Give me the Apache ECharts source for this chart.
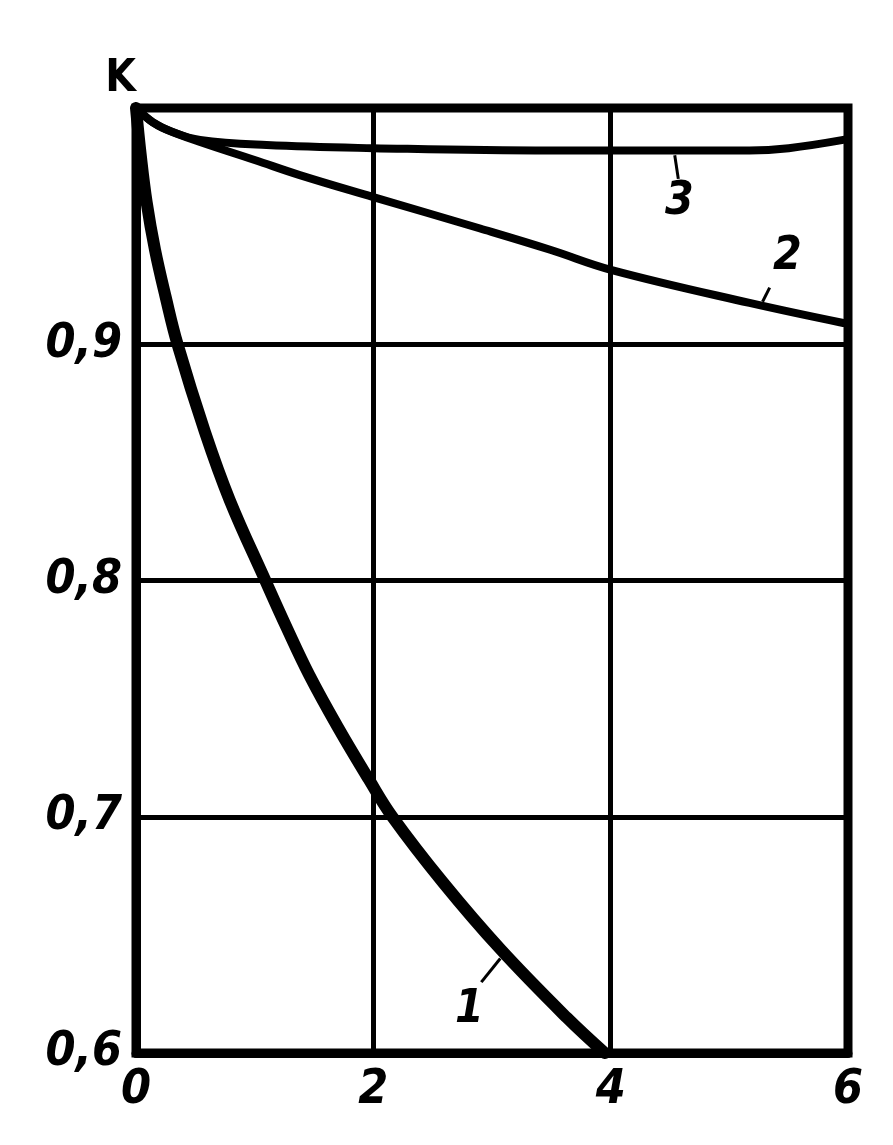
<!DOCTYPE html>
<html>
<head>
<meta charset="utf-8">
<script src="https://cdn.jsdelivr.net/npm/echarts@6/dist/echarts.min.js"></script>
<style>
  html, body { margin: 0; padding: 0; background: #ffffff; }
  #chart { width: 893px; height: 1145px; }
</style>
</head>
<body>
<div id="chart"></div>
<script>
// ---- data ----
const xTickValues = [0, 2, 4, 6];
const xTickLabels = ['0', '2', '4', '6'];
const yTickValues = [0.6, 0.7, 0.8, 0.9, 1.0];
const yTickLabels = ['0,6', '0,7', '0,8', '0,9', ''];
const yAxisName = 'K';

const curve1 = [
  [0, 1.0], [0.04, 0.98], [0.09, 0.96], [0.16, 0.94], [0.25, 0.92],
  [0.35, 0.9], [0.58, 0.863], [0.79, 0.834], [1.09, 0.8], [1.27, 0.780],
  [1.46, 0.760], [1.70, 0.738], [1.96, 0.716], [2.16, 0.700], [2.59, 0.672],
  [3.07, 0.644], [3.63, 0.615], [3.95, 0.6]
];
const curve2 = [
  [0, 1.0], [0.14, 0.994], [0.25, 0.991], [0.54, 0.9856], [1.0, 0.978],
  [1.38, 0.9716], [2.0, 0.9623], [2.9, 0.949], [3.49, 0.940],
  [4.01, 0.9314], [5.17, 0.9175], [5.96, 0.909]
];
const curve3 = [
  [0, 1.0], [0.14, 0.994], [0.3, 0.990], [0.54, 0.9865], [1.1, 0.9843],
  [2.0, 0.983], [3.49, 0.982], [4.5, 0.982], [5.17, 0.982], [5.5, 0.983],
  [5.96, 0.9865]
];

const curveNames = ['1', '2', '3'];
const curveLabelAt = [[2.81, 0.618], [5.49, 0.937], [4.58, 0.960]];
const leaderLines = [
  [[3.07, 0.640], [2.91, 0.630]],
  [[5.34, 0.924], [5.28, 0.918]],
  [[4.54, 0.980], [4.57, 0.970]]
];

// ---- chart ----
const FONT = '"Liberation Sans Narrow", "DejaVu Sans Condensed", sans-serif';
const chart = echarts.init(document.getElementById('chart'), null, { renderer: 'canvas' });

function yLabel(v) {
  const i = yTickValues.findIndex(t => Math.abs(t - v) < 1e-6);
  return i >= 0 ? yTickLabels[i] : '';
}
function xLabel(v) {
  const i = xTickValues.findIndex(t => Math.abs(t - v) < 1e-6);
  return i >= 0 ? xTickLabels[i] : '';
}

const option = {
  backgroundColor: '#ffffff',
  animation: false,
  grid: {
    left: 136, right: 45, top: 108, bottom: 92,
    show: true, borderColor: '#000', borderWidth: 9, backgroundColor: 'transparent'
  },
  xAxis: {
    type: 'value', min: 0, max: 6, interval: 2,
    axisLine: { show: true, lineStyle: { color: '#000', width: 9 } },
    axisTick: { show: false },
    splitLine: { show: true, lineStyle: { color: '#000', width: 5 } },
    axisLabel: {
      formatter: xLabel, margin: 14, color: '#000',
      fontFamily: FONT, fontStyle: 'italic', fontWeight: 'bold', fontSize: 48
    }
  },
  yAxis: {
    type: 'value', min: 0.6, max: 1.0, interval: 0.1,
    name: yAxisName, nameLocation: 'end', nameGap: 6,
    nameTextStyle: { color: '#000', fontFamily: FONT, fontWeight: 'bold', fontSize: 44, align: 'right' },
    axisLine: { show: true, lineStyle: { color: '#000', width: 9 } },
    axisTick: { show: false },
    splitLine: { show: true, lineStyle: { color: '#000', width: 5 } },
    axisLabel: {
      formatter: yLabel, margin: 14, color: '#000',
      fontFamily: FONT, fontStyle: 'italic', fontWeight: 'bold', fontSize: 48
    }
  },
  series: [
    { type: 'line', data: curve1, smooth: 0.4, symbol: 'none',
      lineStyle: { color: '#000', width: 12, cap: 'round' }, z: 5 },
    { type: 'line', data: curve2, smooth: 0.4, symbol: 'none',
      lineStyle: { color: '#000', width: 8, cap: 'round' }, z: 5 },
    { type: 'line', data: curve3, smooth: 0.4, symbol: 'none',
      lineStyle: { color: '#000', width: 8, cap: 'round' }, z: 5 },
    { type: 'lines', coordinateSystem: 'cartesian2d', polyline: false,
      data: leaderLines.map(c => ({ coords: c })),
      lineStyle: { color: '#000', width: 3, opacity: 1, curveness: 0 }, z: 6 },
    { type: 'scatter', data: curveLabelAt, symbolSize: 1, z: 6,
      itemStyle: { color: '#fff', opacity: 1 },
      label: {
        show: true, position: 'inside', opacity: 1,
        formatter: p => curveNames[p.dataIndex],
        color: '#000', fontFamily: FONT, fontStyle: 'italic', fontWeight: 'bold', fontSize: 46
      } }
  ]
};
chart.setOption(option);
</script>
</body>
</html>
